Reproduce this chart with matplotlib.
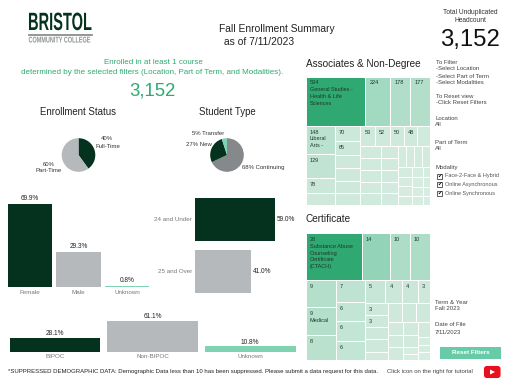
import matplotlib
matplotlib.use("Agg")
import matplotlib.pyplot as plt
from matplotlib.colors import LinearSegmentedColormap
from matplotlib.patches import Rectangle, FancyBboxPatch, Polygon
from matplotlib.patheffects import AbstractPathEffect
from matplotlib.transforms import Affine2D

plt.rcParams['font.family'] = ['Liberation Sans', 'DejaVu Sans']

W, H = 512, 384
DARK = '#05321e'
GREY = '#b5b9bb'
MID = '#85898c'
MINT = '#7fd3b0'
GREEN = '#2fa971'
TXT = '#333333'

status_labels = ['Full-Time', 'Part-Time']
status_values = [40, 60]
type_labels = ['Continuing', 'New', 'Transfer']
type_values = [68, 27, 5]
gender_labels = ['Female', 'Male', 'Unknown']
gender_values = [69.9, 29.3, 0.8]
age_labels = ['24 and Under', '25 and Over']
age_values = [59.0, 41.0]
race_labels = ['BIPOC', 'Non-BIPOC', 'Unknown']
race_values = [28.1, 61.1, 10.8]

# nested rows/columns, orientation alternates each level
assoc_cells = [
    [534, 224, 178, 177],
    [
        [148, 129, 78, 60],
        [70, 65, 60, 58, 56, 54],
        [
            [53, 52, 50, 48, 45],
            [
                [46, 45, 44, 43, 42],
                [38, 37, 36, 35, 34],
                [
                    [33, 32, 31, 30],
                    [
                        [26, 25, 24, 23],
                        [20, 19, 18, 17],
                        [14, 13, 12, 12],
                    ],
                ],
            ],
        ],
    ],
]
assoc_names = {534: 'General Studies -\nHealth & Life\nSciences', 148: 'Liberal\nArts -'}
assoc_shown = [534, 224, 178, 177, 148, 129, 78, 70, 65, 53, 52, 50, 48]

cert_cells = [
    [28, 14, 10, 10],
    [
        [9, 9, 8],
        [7, 6, 6, 6],
        [
            [5, 4, 4, 3],
            [
                [3, 3, 3, 3, 2],
                [
                    [3, 3, 3],
                    [
                        [2, 2, 2],
                        [2, 2, 1, 1],
                        [2, 1, 1, 1],
                    ],
                ],
            ],
        ],
    ],
]
cert_names = {28: 'Substance Abuse\nCounseling\nCertificate\n(CTACH)'}
cert_labels = [(28, 0), (14, 0), (10, 0), (10, 1), (9, 0), (9, 1), (8, 0), (7, 0), (6, 0), (6, 1), (6, 2),
               (5, 0), (4, 0), (4, 1), (3, 0), (3, 1), (3, 2)]

cmap = LinearSegmentedColormap.from_list(
    'tm', [(0, '#d9ede3'), (0.25, '#bfe3d2'), (0.45, '#9dd7be'), (1, GREEN)])


class Squeeze(AbstractPathEffect):
    # condensed logo lettering, no such font installed
    def __init__(self, x0, sx):
        super().__init__()
        self.x0 = x0
        self.sx = sx

    def draw_path(self, renderer, gc, tpath, affine, rgbFace=None):
        m = Affine2D().translate(-self.x0, 0).scale(self.sx, 1).translate(self.x0, 0)
        renderer.draw_path(gc, tpath, affine + m, rgbFace)


def total(node):
    return node if not isinstance(node, list) else sum(total(n) for n in node)


def add_axes(x0, y0, x1, y1):
    a = fig.add_axes([x0 / W, 1 - y1 / H, (x1 - x0) / W, (y1 - y0) / H])
    a.axis('off')
    return a


def treemap(a, node, x, y, w, h, vmax, horizontal, out):
    # horizontal = children side by side
    if not isinstance(node, list):
        a.add_patch(Rectangle((x, y), w, h, fc=cmap(node / vmax), ec='white', lw=0.7))
        out.append((node, x, y))
        return
    s = total(node)
    for child in node:
        share = total(child) / s
        if horizontal:
            treemap(a, child, x, y, w * share, h, vmax, False, out)
            x += w * share
        else:
            treemap(a, child, x, y, w, h * share, vmax, True, out)
            y += h * share


fig = plt.figure(figsize=(W / 100, H / 100), dpi=100)
bg = fig.add_axes([0, 0, 1, 1])
bg.set_xlim(0, W)
bg.set_ylim(H, 0)
bg.axis('off')


def t(x, y, s, size=6, color=TXT, ha='left', va='center', **kw):
    return bg.text(x, y, s, fontsize=size, color=color, ha=ha, va=va, **kw)


# logo
t(28, 23, 'BRISTOL', 18, DARK, weight='bold').set_path_effects([Squeeze(28, 0.585)])
bg.plot([29, 92], [35, 35], color='#8a8f8c', lw=1.3)
t(28.5, 41, 'COMMUNITY COLLEGE', 6, '#8f9491', weight='bold').set_path_effects([Squeeze(28.5, 0.66)])

# titles
t(219, 29, 'Fall Enrollment Summary', 7.4, '#222222')
t(224, 42, 'as of 7/11/2023', 7.4, '#222222')
t(153, 63, 'Enrolled in at least 1 course', 5.75, GREEN, ha='center')
t(152.5, 73, 'determined by the selected filters (Location, Part of Term, and Modalities).', 5.75, GREEN, ha='center')
t(152.5, 91.5, '3,152', 13.3, GREEN, ha='center')
t(78.5, 112, 'Enrollment Status', 6.9, '#222222', ha='center')
t(227, 112, 'Student Type', 6.9, '#222222', ha='center')

# pies
a = add_axes(58.5, 135, 98.5, 175)
a.pie(status_values, colors=[DARK, GREY], startangle=90, counterclock=False, radius=0.84)
a.set_xlim(-1, 1)
a.set_ylim(-1, 1)
t(107, 139, '%d%%' % status_values[0], 4.3, ha='center')
t(107.5, 146, status_labels[0], 4.3, ha='center')
t(48.5, 164, '%d%%' % status_values[1], 4.3, ha='center')
t(48.5, 171, status_labels[1], 4.3, ha='center')

a = add_axes(207, 135, 247, 175)
a.pie(type_values, colors=[MID, DARK, MINT], startangle=90, counterclock=False, radius=0.84)
a.set_xlim(-1, 1)
a.set_ylim(-1, 1)
t(208, 133.5, '%d%% %s' % (type_values[2], type_labels[2]), 4.3, ha='center')
t(198.5, 145, '%d%% %s' % (type_values[1], type_labels[1]), 4.3, ha='center')
t(263.5, 168, '%d%% %s' % (type_values[0], type_labels[0]), 4.3, ha='center')

# gender bars
a = add_axes(5.75, 190, 151.25, 287)
pos = range(len(gender_values))
a.bar(pos, gender_values, width=0.91, color=[DARK, GREY, MINT])
a.set_xlim(-0.5, 2.5)
a.set_ylim(0, 81.7)
for i in pos:
    a.text(i, gender_values[i] + 1.5, '%.1f%%' % gender_values[i], ha='center', va='bottom', fontsize=4.7, color='#222222')
    t(30 + 48.5 * i, 292.5, gender_labels[i], 4.5, '#777777', ha='center')

# age bars
a = add_axes(195, 193.5, 285, 297.5)
a.barh([0, 1], age_values, height=0.83, color=[DARK, GREY])
a.set_xlim(0, 66.4)
a.set_ylim(1.5, -0.5)
for i in [0, 1]:
    a.text(age_values[i] + 1.5, i, '%.1f%%' % age_values[i], va='center', fontsize=4.7, color='#222222')
    t(192, 219.5 + 52 * i, age_labels[i], 4.5, '#777777', ha='right')

# race bars
a = add_axes(6.2, 316, 299, 351.7)
a.bar(range(3), race_values, width=0.93, color=[DARK, GREY, MINT])
a.set_xlim(-0.5, 2.5)
a.set_ylim(0, 71)
for i in range(3):
    a.text(i, race_values[i] + 1.5, '%.1f%%' % race_values[i], ha='center', va='bottom', fontsize=4.7, color='#222222')
    t(55 + 97.7 * i, 356.5, race_labels[i], 4.5, '#777777', ha='center')

t(8, 371.5, '*SUPPRESSED DEMOGRAPHIC DATA: Demographic Data less than 10 has been suppressed. Please submit a data request for this data.', 4.35, '#222222')

# treemaps
t(306, 64, 'Associates & Non-Degree', 7.2, '#222222')
a = add_axes(306, 77, 430, 204.5)
a.set_xlim(306, 430)
a.set_ylim(204.5, 77)
cells = []
treemap(a, assoc_cells, 306, 77, 124, 127.5, 534, False, cells)
for v, x, y in cells:
    if v in assoc_shown:
        s = str(v)
        if v in assoc_names:
            s += '\n' + assoc_names[v]
        a.text(x + 4, y + 3.5, s, fontsize=4, color='#1d3a2c', va='top', linespacing=1.45)

t(306, 219, 'Certificate', 7.2, '#222222')
a = add_axes(306, 233, 430, 360)
a.set_xlim(306, 430)
a.set_ylim(360, 233)
cells = []
treemap(a, cert_cells, 306, 233, 124, 127, 28, False, cells)
seen = {}
for v, x, y in cells:
    k = seen.get(v, 0)
    seen[v] = k + 1
    if (v, k) in cert_labels:
        s = str(v)
        if v in cert_names:
            s += '\n' + cert_names[v]
        if v == 9 and k == 1:
            s += '\nMedical'
        a.text(x + 4, y + 4, s, fontsize=4, color='#1d3a2c', va='top', linespacing=1.45)

# right panel
t(470, 12, 'Total Unduplicated', 4.8, ha='center')
t(470, 20, 'Headcount', 4.8, ha='center')
t(470, 40, '3,152', 17.2, '#111111', ha='center')
panel = [(62, 'To Filter'), (69, '-Select Location'), (76, '-Select Part of Term'), (83, '-Select Modalities'),
         (96, 'To Reset view'), (103, '-Click Reset Filters'), (118, 'Location'), (125, 'All'),
         (142, 'Part of Term'), (149, 'All'), (168, 'Modality')]
for y, s in panel:
    t(436 if y < 110 else 435, y, s, 4.3, '#444444')
checks = ['Face-2-Face & Hybrid', 'Online Asynchronous', 'Online Synchronous']
for i, s in enumerate(checks):
    y = 176 + 8.5 * i
    bg.add_patch(Rectangle((437, y - 2.5), 5, 5, fc='white', ec='#444444', lw=0.6))
    bg.text(439.5, y, '\u2714', fontsize=4, color='#111111', ha='center', va='center', family='DejaVu Sans')
    t(445, y, s, 4, '#555555')

t(435, 302, 'Term & Year', 4.3, '#444444')
t(435, 309, 'Fall 2023', 4.3, '#444444')
t(435, 325, 'Date of File', 4.3, '#444444')
t(435, 332, '7/11/2023', 4.3, '#444444')

bg.add_patch(Rectangle((440, 347), 61, 12, fc='#66cba6', ec='none'))
t(470.5, 353, 'Reset Filters', 4.5, 'white', ha='center', weight='bold')
t(387, 371.5, 'Click icon on the right for tutorial', 4.3, '#444444')
bg.add_patch(FancyBboxPatch((484.5, 366.5), 15.5, 11, boxstyle='round,pad=0,rounding_size=2.5', fc='#e8101c', ec='#e8101c', lw=0.8))
bg.add_patch(Polygon([(490, 369.5), (490, 374.5), (495, 372)], fc='white', ec='none'))

fig.savefig('out.png', dpi=100)
